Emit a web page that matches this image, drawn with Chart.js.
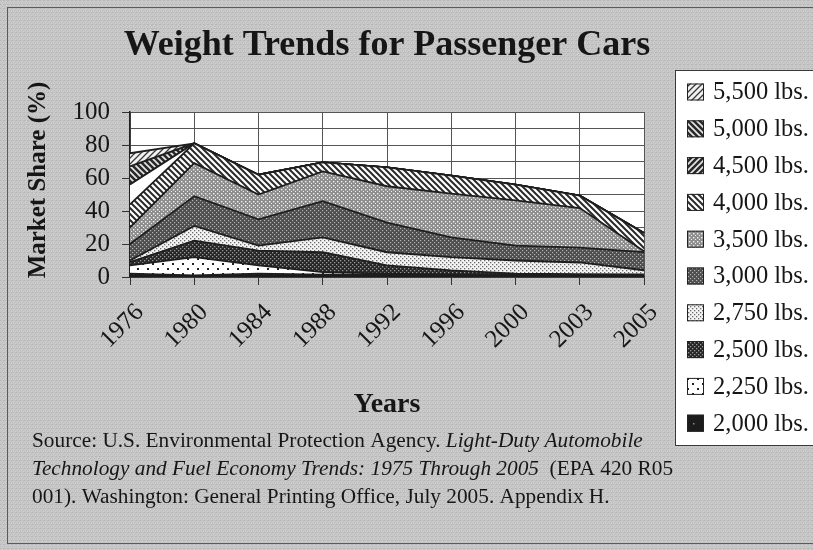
<!DOCTYPE html>
<html>
<head>
<meta charset="utf-8">
<script src="https://cdn.jsdelivr.net/npm/chart.js@4.4.0/dist/chart.umd.min.js"></script>
<style>
  html, body { margin: 0; padding: 0; background: #c4c4c4; }
  #wrap { width: 813px; height: 550px; }
</style>
</head>
<body>
<div id="wrap"><canvas id="weightChart" width="813" height="550"></canvas></div>
<script>
// market share (%) per inertia weight class
const years = ['1976', '1980', '1984', '1988', '1992', '1996', '2000', '2003', '2005'];
const share2000 = [2, 1, 2, 1.5, 1.5, 1, 1, 1, 1];
const share2250 = [5, 11, 5, 1.5, 0.5, 0.5, 0.5, 0.3, 0.3];
const share2500 = [2, 10, 9, 12, 5, 2.5, 0.5, 0.5, 0.3];
const share2750 = [1, 9, 3, 9, 8, 8, 8, 7, 2.5];
const share3000 = [10, 18, 16, 22, 18, 12, 9, 9, 11];
const share3500 = [10, 20, 15, 18, 22, 26.5, 27.5, 24, 0.5];
const share4000 = [14, 12, 12, 5.5, 11.5, 11, 9.5, 7.5, 11];
const blankShare = [12, 0, 0, 0, 0, 0, 0, 0, 0]; // unfilled wedge seen in 1976
const share4500 = [0, 0, 0, 0, 0, 0, 0, 0, 0];
const share5000 = [11, 0, 0, 0, 0, 0, 0, 0, 0];
const share5500 = [8, 0, 0, 0, 0, 0, 0, 0, 0];
const weightLabels = ['2,000 lbs.', '2,250 lbs.', '2,500 lbs.', '2,750 lbs.', '3,000 lbs.',
                      '3,500 lbs.', '4,000 lbs.', '4,500 lbs.', '5,000 lbs.', '5,500 lbs.'];
const yTicks = [0, 20, 40, 60, 80, 100];

const serif = 'Liberation Serif';
const canvas = document.getElementById('weightChart');
const ctx = canvas.getContext('2d');

function makePattern(size, bg, draw) {
    const c = document.createElement('canvas');
    c.width = size;
    c.height = size;
    const g = c.getContext('2d');
    g.fillStyle = bg;
    g.fillRect(0, 0, size, size);
    draw(g, size);
    return ctx.createPattern(c, 'repeat');
}

function stripes(bg, fg, width, dir) {
    return makePattern(6, bg, (g, s) => {
        g.strokeStyle = fg;
        g.lineWidth = width;
        g.beginPath();
        if (dir === 'up') {
            g.moveTo(-1, s + 1); g.lineTo(s + 1, -1);
            g.moveTo(-2, 2); g.lineTo(2, -2);
            g.moveTo(s - 2, s + 2); g.lineTo(s + 2, s - 2);
        } else {
            g.moveTo(-1, -1); g.lineTo(s + 1, s + 1);
            g.moveTo(s - 2, -2); g.lineTo(s + 2, 2);
            g.moveTo(-2, s - 2); g.lineTo(2, s + 2);
        }
        g.stroke();
    });
}

function dots(size, bg, fg, r, spots) {
    return makePattern(size, bg, (g) => {
        g.fillStyle = fg;
        spots.forEach(([x, y]) => g.fillRect(x, y, r, r));
    });
}

const fills = [
    dots(10, '#1c1c1c', '#8a8a8a', 1.5, [[3, 3]]),                 // 2,000
    dots(10, '#ffffff', '#222222', 2, [[2, 3], [7, 8]]),           // 2,250
    dots(4, '#262626', '#9a9a9a', 1.3, [[0, 0], [2, 2]]),          // 2,500
    dots(4, '#f4f4f4', '#6a6a6a', 1.3, [[0, 0], [2, 2]]),          // 2,750
    dots(4, '#4e4e4e', '#b4b4b4', 1.2, [[0, 0], [2, 2]]),          // 3,000
    dots(4, '#8e8e8e', '#f0f0f0', 1.4, [[1, 1], [3, 3]]),          // 3,500
    stripes('#ffffff', '#2a2a2a', 2, 'down'),                       // 4,000
    stripes('#2a2a2a', '#e8e8e8', 1.6, 'up'),                       // 4,500
    stripes('#2a2a2a', '#e8e8e8', 1.6, 'down'),                     // 5,000
    stripes('#f2f2f2', '#3a3a3a', 1.3, 'up')                        // 5,500
];

const paper = makePattern(4, '#c5c5c5', (g) => {
    g.fillStyle = '#b8b8b8';
    g.fillRect(0, 0, 1, 1); g.fillRect(2, 2, 1, 1); g.fillRect(3, 0, 1, 1);
    g.fillStyle = '#d2d2d2';
    g.fillRect(1, 2, 1, 1); g.fillRect(3, 3, 1, 1); g.fillRect(2, 1, 1, 1);
});

const series = [share2000, share2250, share2500, share2750, share3000, share3500, share4000,
                blankShare, share4500, share5000, share5500];
const seriesFill = [...fills.slice(0, 7), '#ffffff', ...fills.slice(7)];
const seriesName = [...weightLabels.slice(0, 7), '', ...weightLabels.slice(7)];

const datasets = series.map((data, i) => ({
    label: seriesName[i],
    data: data,
    backgroundColor: seriesFill[i],
    borderColor: '#1e1e1e',
    borderWidth: 1.8,
    pointRadius: 0,
    tension: 0,
    fill: i === 0 ? 'origin' : '-1'
}));

const decor = {
    id: 'decor',
    beforeDraw(chart) {
        const c = chart.ctx;
        const a = chart.chartArea;
        c.save();
        c.fillStyle = paper;
        c.fillRect(0, 0, chart.width, chart.height);
        c.strokeStyle = '#5a5a5a';
        c.lineWidth = 1;
        c.strokeRect(7.5, 7.5, 830, 536);
        c.fillStyle = '#ffffff';
        c.fillRect(a.left, a.top, a.right - a.left, a.bottom - a.top);
        c.restore();
    },
    afterDraw(chart) {
        const c = chart.ctx;
        c.save();
        c.fillStyle = '#161616';
        c.textBaseline = 'alphabetic';

        // title
        c.font = 'bold 36px "' + serif + '"';
        c.textAlign = 'center';
        c.fillText('Weight Trends for Passenger Cars', 387, 55);

        // y axis title
        c.save();
        c.translate(45, 180);
        c.rotate(-Math.PI / 2);
        c.font = 'bold 25px "' + serif + '"';
        c.fillText('Market Share (%)', 0, 0);
        c.restore();

        // legend box
        c.fillStyle = '#ffffff';
        c.fillRect(675, 70, 160, 375);
        c.strokeStyle = '#3a3a3a';
        c.lineWidth = 1;
        c.strokeRect(675.5, 70.5, 160, 375);
        c.font = '24.5px "' + serif + '"';
        c.textAlign = 'left';
        c.textBaseline = 'middle';
        for (let k = 0; k < fills.length; k++) {
            const idx = fills.length - 1 - k;
            const cy = 92 + k * 36.8;
            c.fillStyle = fills[idx];
            c.fillRect(687, cy - 8.5, 17, 17);
            c.strokeStyle = '#222';
            c.strokeRect(687.5, cy - 8, 16, 16);
            c.fillStyle = '#161616';
            c.fillText(weightLabels[idx], 713, cy + 1);
        }

        // source note
        c.textBaseline = 'alphabetic';
        const lines = [
            [['Source: U.S. Environmental Protection Agency. ', false], ['Light-Duty Automobile', true]],
            [['Technology and Fuel Economy Trends: 1975 Through 2005', true], ['  (EPA 420 R05', false]],
            [['001). Washington: General Printing Office, July 2005. Appendix H.', false]]
        ];
        lines.forEach((parts, li) => {
            let x = 32;
            const y = 447 + li * 28;
            parts.forEach(([txt, italic]) => {
                c.font = (italic ? 'italic ' : '') + '21.3px "' + serif + '"';
                c.fillText(txt, x, y);
                x += c.measureText(txt).width;
            });
        });
        c.restore();
    }
};

const chart = new Chart(ctx, {
    type: 'line',
    data: { labels: years, datasets: datasets },
    options: {
        responsive: false,
        animation: false,
        devicePixelRatio: 1,
        layout: { padding: { top: 112, right: 169, left: 0, bottom: 0 } },
        plugins: {
            legend: { display: false },
            tooltip: { enabled: false }
        },
        scales: {
            x: {
                type: 'category',
                offset: false,
                grid: { color: '#555', lineWidth: 1, tickLength: 8, tickColor: '#333' },
                border: { color: '#222', width: 1.5 },
                ticks: {
                    font: { family: serif, size: 25 },
                    color: '#161616',
                    minRotation: 45,
                    maxRotation: 45,
                    autoSkip: false,
                    labelOffset: 10,
                    padding: 13
                },
                title: {
                    display: true,
                    text: 'Years',
                    color: '#161616',
                    font: { family: serif, size: 28, weight: 'bold' },
                    padding: { top: 0, bottom: 128 }
                },
                afterFit: (s) => { s.height = 550 - 277; }
            },
            y: {
                stacked: true,
                min: 0,
                max: 100,
                grid: {
                    color: '#555',
                    lineWidth: 1,
                    tickLength: 8,
                    tickColor: (c) => (c.tick && yTicks.includes(c.tick.value)) ? '#333' : 'rgba(0,0,0,0)'
                },
                border: { color: '#222', width: 1.5 },
                ticks: {
                    stepSize: 10,
                    autoSkip: false,
                    padding: 12,
                    color: '#161616',
                    font: { family: serif, size: 25 },
                    callback: (v) => yTicks.includes(v) ? String(v) : ''
                },
                afterFit: (s) => { s.width = 130; }
            }
        }
    },
    plugins: [decor]
});
</script>
</body>
</html>
